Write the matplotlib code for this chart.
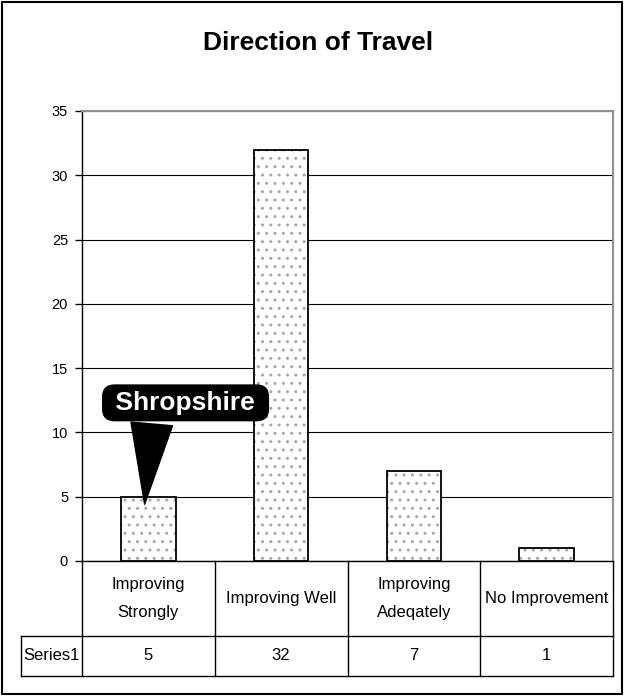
import matplotlib
matplotlib.use("Agg")
import matplotlib.pyplot as plt
import matplotlib.transforms as mtransforms
import numpy as np

categories = ["Improving\nStrongly", "Improving Well", "Improving\nAdeqately", "No Improvement"]
values = [5, 32, 7, 1]
series_name = "Series1"
yticks = [0, 5, 10, 15, 20, 25, 30, 35]

plt.rcParams['font.family'] = ['Liberation Sans', 'DejaVu Sans']
plt.rcParams['hatch.linewidth'] = 1.0

fig = plt.figure(figsize=(6.26, 6.96), dpi=100)
ax = fig.add_axes([82/626, 1 - 561/696, (613-82)/626, (561-111)/696])

# outer frame
fig.patches.append(plt.Rectangle((2/626, 2/696), 620/626, 692/696, transform=fig.transFigure,
                                 fill=False, edgecolor='black', linewidth=1.5))

x = np.arange(len(values))
ax.bar(x, values, width=0.41, color='white', edgecolor='#a8a8a8', hatch='..', linewidth=0, zorder=2)
ax.bar(x, values, width=0.41, fill=False, edgecolor='black', linewidth=1.3, zorder=3)

ax.set_xlim(-0.5, len(values) - 0.5)
ax.set_ylim(0, 35)
ax.set_yticks(yticks)
ax.tick_params(axis='y', length=5, width=1, direction='out', labelsize=10.5, pad=5)
ax.set_xticks([])
ax.yaxis.grid(True, color='black', linewidth=0.8)
ax.set_axisbelow(True)
for s in ['top', 'right']:
    ax.spines[s].set_color('#909090')
    ax.spines[s].set_linewidth(1.5)
ax.spines['left'].set_linewidth(1)
ax.spines['bottom'].set_linewidth(1)

fig.text(318/626, 1 - 43/696, "Direction of Travel", ha='center', va='center',
         fontsize=19, fontweight='bold')

# data table below the axes
trans = mtransforms.blended_transform_factory(ax.transData, ax.transAxes)
h = 450
r1 = -(636 - 561) / h
r2 = -(676 - 561) / h
left = -0.5 - (82 - 21) / 133
lk = dict(color='black', linewidth=1, transform=trans, clip_on=False)
ax.plot([left, 3.5], [r1, r1], **lk)
ax.plot([left, 3.5], [r2, r2], **lk)
ax.plot([left, left], [r1, r2], **lk)
for b in np.arange(-0.5, len(values)):
    ax.plot([b, b], [0, r2], **lk)
for i, (c, v) in enumerate(zip(categories, values)):
    ax.text(i, r1 / 2, c, ha='center', va='center', fontsize=12,
            linespacing=2.1, transform=trans)
    ax.text(i, (r1 + r2) / 2, str(v), ha='center', va='center', fontsize=12,
            transform=trans)
ax.text((left - 0.5) / 2, (r1 + r2) / 2, series_name, ha='center', va='center',
        fontsize=12, transform=trans)

# callout
ax.annotate(" Shropshire ", xy=(-0.03, 4.2), xytext=(0.28, 12.3),
            ha='center', va='center', fontsize=19, fontweight='bold', color='white',
            bbox=dict(boxstyle='round,pad=0.22,rounding_size=0.45', fc='black', ec='black'),
            arrowprops=dict(arrowstyle='wedge,tail_width=1.5,shrink_factor=0.5', fc='black',
                            ec='black', mutation_scale=20, relpos=(0.29, 0.3)),
            zorder=5)

fig.savefig("out.png", dpi=100)
